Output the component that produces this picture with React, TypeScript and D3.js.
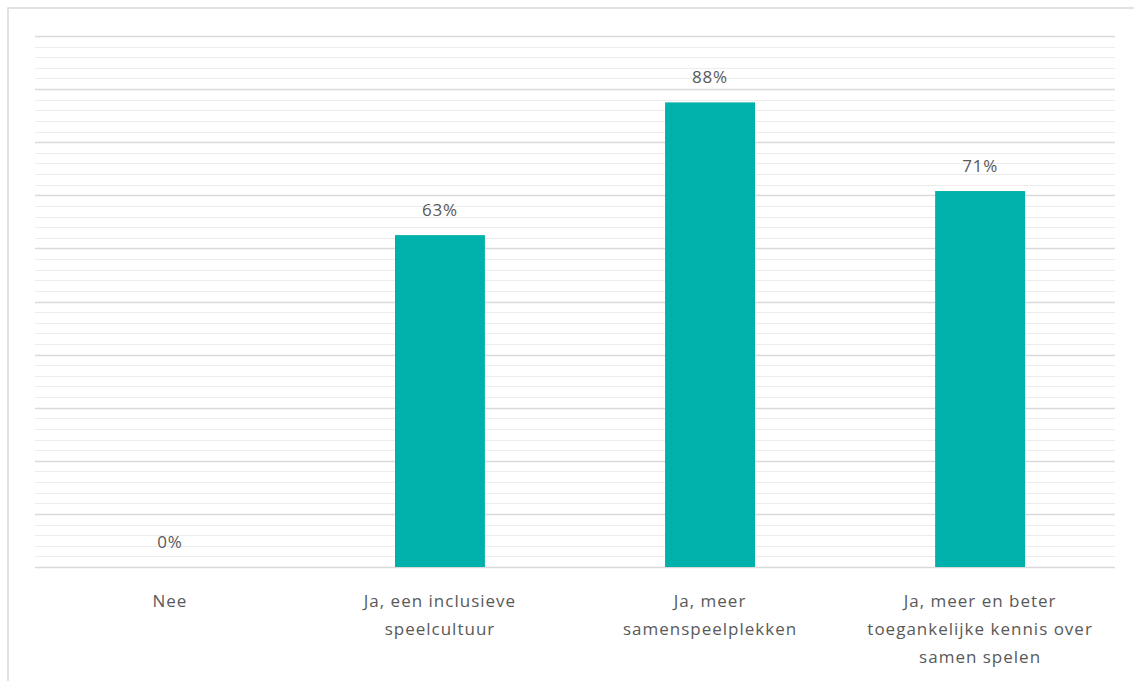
import React from "react";
import * as d3 from "d3";

const categories = [
  "Nee",
  "Ja, een inclusieve\nspeelcultuur",
  "Ja, meer\nsamenspeelplekken",
  "Ja, meer en beter\ntoegankelijke kennis over\nsamen spelen",
];
const values = [0, 62.5, 87.5, 70.8];
const yTicks = d3.range(0, 101, 2);

const W = 1134;
const H = 681;
const M = { left: 35, right: 19, top: 36, bottom: 114 };

export default function App() {
  const x = d3
    .scaleBand<string>()
    .domain(categories)
    .range([M.left, W - M.right])
    .paddingInner(0.667)
    .paddingOuter(0.333);
  const y = d3.scaleLinear().domain([0, 100]).range([H - M.bottom, M.top]);
  const font = "'Open Sans', 'Segoe UI', sans-serif";
  const textColor = "#595959";

  return (
    <svg
      width={W}
      height={H}
      style={{ position: "absolute", left: 0, top: 0, display: "block", background: "#fff" }}
    >
      <rect x={8} y={8} width={W + 10} height={H + 10} fill="#fff" stroke="#d9d9d9" strokeWidth={1.5} />
      {yTicks.map((t) => {
        const major = t % 10 === 0;
        return (
          <line
            key={t}
            x1={M.left}
            x2={W - M.right}
            y1={Math.round(y(t)) + 0.5}
            y2={Math.round(y(t)) + 0.5}
            stroke={major ? "#d9d9d9" : "#ececec"}
            strokeWidth={major ? 1.5 : 1}
          />
        );
      })}
      {categories.map((c, i) => (
        <rect
          key={c}
          x={x(c)}
          y={y(values[i])}
          width={x.bandwidth()}
          height={y(0) - y(values[i])}
          fill="#00B0AA"
        />
      ))}
      {categories.map((c, i) => (
        <text
          key={"v" + c}
          x={(x(c) as number) + x.bandwidth() / 2}
          y={y(values[i]) - 19}
          textAnchor="middle"
          fontFamily={font}
          fontSize={17}
          letterSpacing={0.8}
          fill={textColor}
        >
          {Math.round(values[i]) + "%"}
        </text>
      ))}
      {categories.map((c) => (
        <text
          key={"c" + c}
          x={(x(c) as number) + x.bandwidth() / 2}
          y={y(0) + 40}
          textAnchor="middle"
          fontFamily={font}
          fontSize={17}
          letterSpacing={1}
          fill={textColor}
        >
          {c.split("\n").map((line, j) => (
            <tspan key={j} x={(x(c) as number) + x.bandwidth() / 2} dy={j === 0 ? 0 : 28}>
              {line}
            </tspan>
          ))}
        </text>
      ))}
    </svg>
  );
}
